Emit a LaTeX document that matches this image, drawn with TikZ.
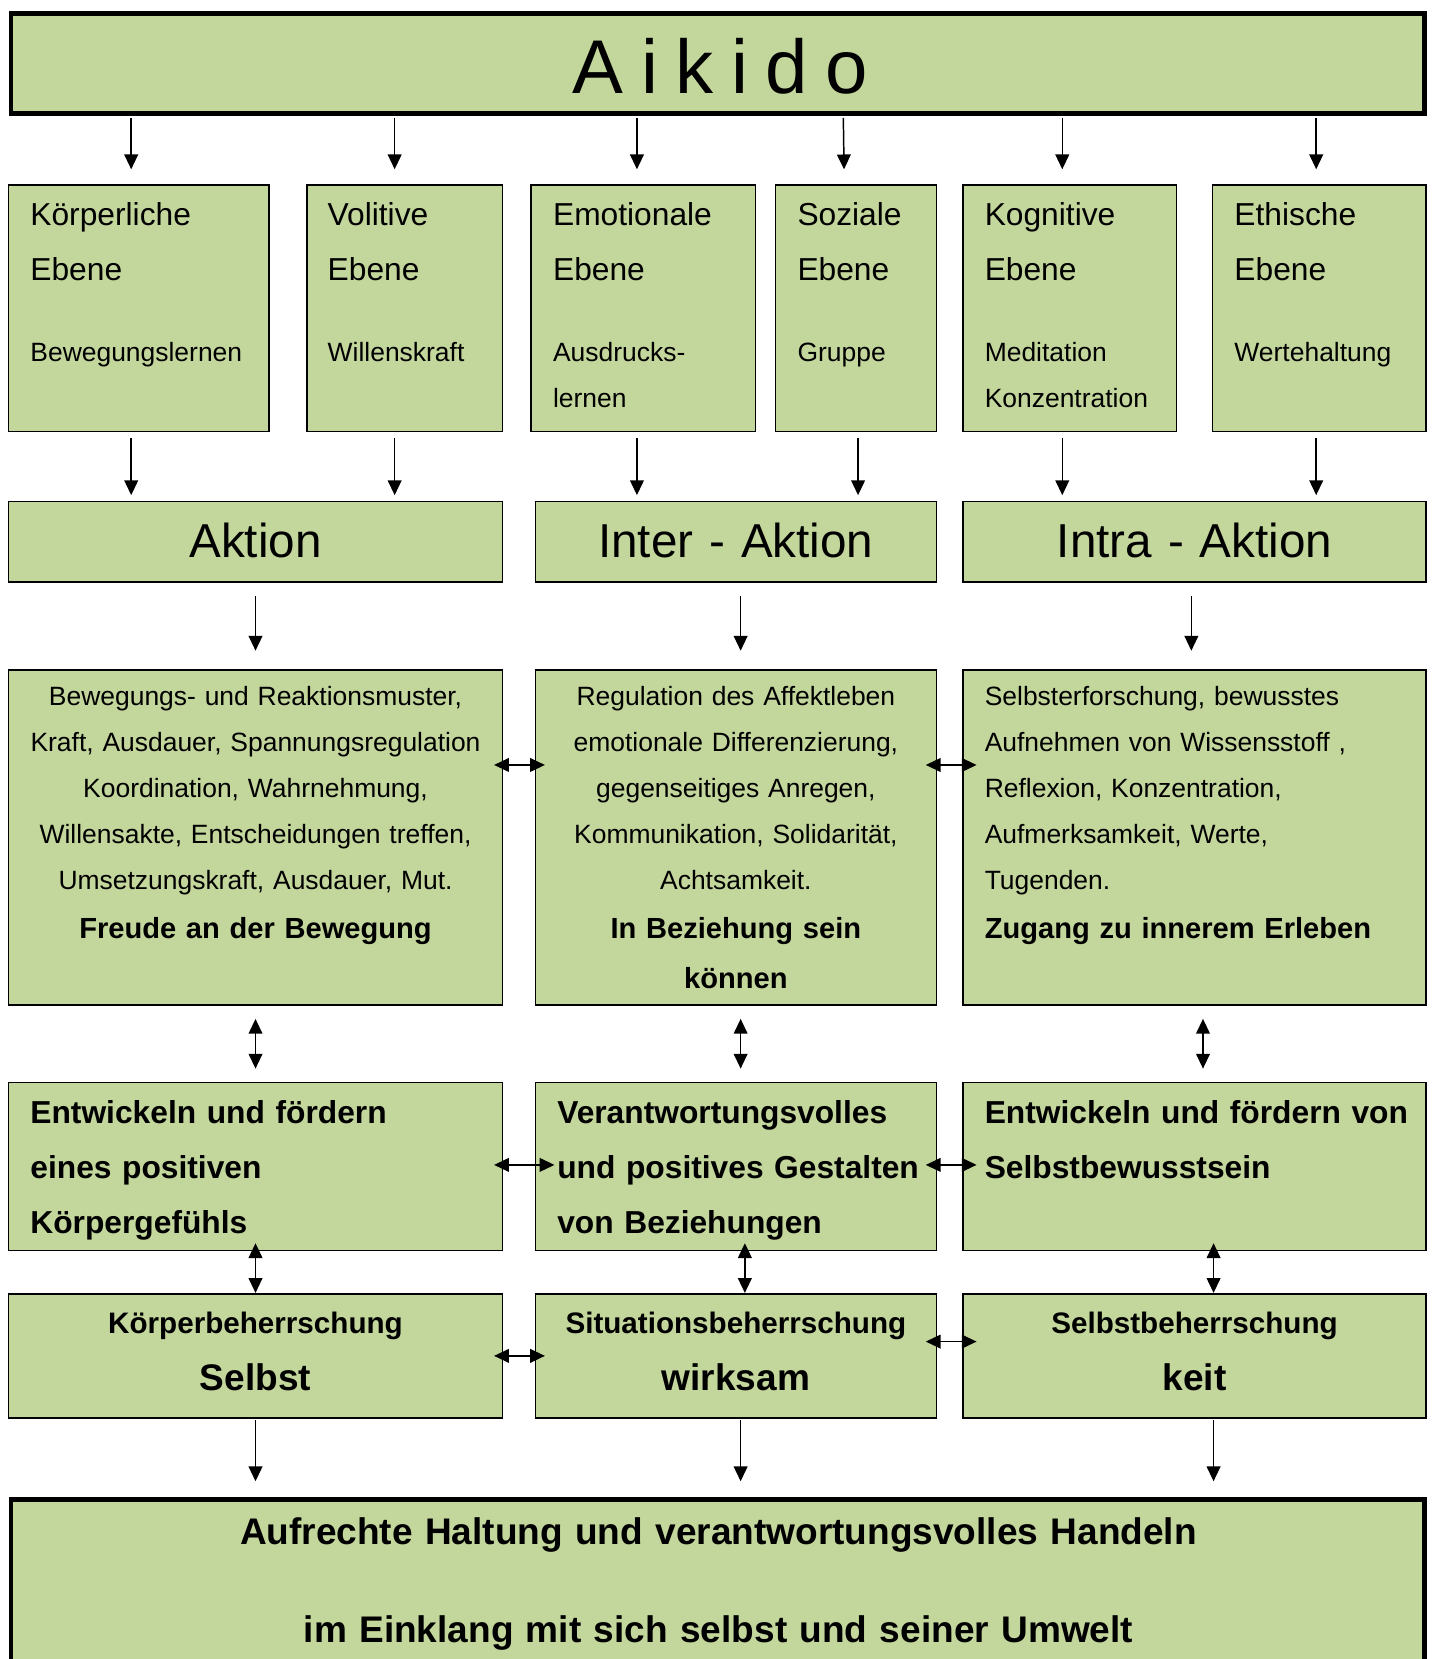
\documentclass[tikz,border=0pt]{standalone}
\usepackage{fontspec}
\setmainfont{Liberation Sans}
\usetikzlibrary{arrows.meta,calc}
\definecolor{aikgreen}{RGB}{195,214,155}
\tikzset{every picture/.style={line width=1.5pt}}
\tikzset{
  box/.style={draw, fill=aikgreen, line width=1.5pt, anchor=north west, inner sep=0pt, outer sep=0pt},
  bigbox/.style={box, line width=4.5pt},
  ltxt/.style={inner sep=0pt, anchor=base west, align=left},
  ctxt/.style={inner sep=0pt, anchor=base, align=center},
  lvhead/.style={ltxt, text width=220pt, font=\fontsize{30}{52}\selectfont},
  lvbody/.style={ltxt, text width=220pt, font=\fontsize{25}{43}\selectfont},
  acttxt/.style={ctxt, text width=430pt, font=\fontsize{45}{54}\selectfont},
  dettxt/.style={font=\fontsize{25}{43.5}\selectfont},
  detbold/.style={font=\fontsize{27.5}{47}\selectfont\bfseries},
  devtxt/.style={ltxt, text width=430pt, font=\fontsize{30}{52}\selectfont\bfseries},
  mssmall/.style={ctxt, text width=430pt, font=\fontsize{28}{34}\selectfont\bfseries},
  msbig/.style={ctxt, text width=430pt, font=\fontsize{35}{42}\selectfont\bfseries},
  arr/.style={-{Triangle[length=14pt,width=13pt]}, line width=1.4pt},
  dblarr/.style={{Triangle[length=14pt,width=13pt]}-{Triangle[length=14pt,width=13pt]}, line width=1.4pt},
}

\begin{document}
\begin{tikzpicture}[x=1pt,y=1pt,yscale=-1,xscale=1]
\useasboundingbox (0,0) rectangle (1357,1568);
\clip (0,0) rectangle (1357,1568);

%Boxes
\node[bigbox, minimum width=1336pt, minimum height=95pt] (aikido) at (10.5,12.5) {};
\node[box, minimum width=246pt, minimum height=233pt] (lvA) at (8,175) {};
\node[box, minimum width=185pt, minimum height=233pt] (lvB) at (290,175) {};
\node[box, minimum width=212pt, minimum height=233pt] (lvC) at (502,175) {};
\node[box, minimum width=152pt, minimum height=233pt] (lvD) at (733,175) {};
\node[box, minimum width=202pt, minimum height=233pt] (lvE) at (910,175) {};
\node[box, minimum width=202pt, minimum height=233pt] (lvF) at (1146,175) {};
\node[box, minimum width=467pt, minimum height=76pt] (akA) at (8,474) {};
\node[box, minimum width=379pt, minimum height=76pt] (akB) at (506,474) {};
\node[box, minimum width=438pt, minimum height=76pt] (akC) at (910,474) {};
\node[box, minimum width=467pt, minimum height=317pt] (dtA) at (8,633) {};
\node[box, minimum width=379pt, minimum height=317pt] (dtB) at (506,633) {};
\node[box, minimum width=438pt, minimum height=317pt] (dtC) at (910,633) {};
\node[box, minimum width=467pt, minimum height=159pt] (dvA) at (8,1023) {};
\node[box, minimum width=379pt, minimum height=159pt] (dvB) at (506,1023) {};
\node[box, minimum width=438pt, minimum height=159pt] (dvC) at (910,1023) {};
\node[box, minimum width=467pt, minimum height=117pt] (msA) at (8,1223) {};
\node[box, minimum width=379pt, minimum height=117pt] (msB) at (506,1223) {};
\node[box, minimum width=438pt, minimum height=117pt] (msC) at (910,1223) {};
\node[bigbox, minimum width=1336pt, minimum height=220pt] (goal) at (10.5,1417.5) {};

%Arrows from Aikido to the levels
\draw[arr, shorten <=4pt, shorten >=15pt] ($(aikido.south -| lvA.north)+(-7,0)$) -- ($(lvA.north)+(-7,0)$);
\draw[arr, shorten <=4pt, shorten >=15pt] ($(aikido.south -| lvB.north)+(-9.5,0)$) -- ($(lvB.north)+(-9.5,0)$);
\draw[arr, shorten <=4pt, shorten >=15pt] ($(aikido.south -| lvC.north)+(-6,0)$) -- ($(lvC.north)+(-6,0)$);
\draw[arr, shorten <=4pt, shorten >=15pt] ($(aikido.south -| lvD.north)+(-12,0)$) -- ($(lvD.north)+(-11,0)$);
\draw[arr, shorten <=4pt, shorten >=15pt] ($(aikido.south -| lvE.north)+(-7,0)$) -- ($(lvE.north)+(-7,0)$);
\draw[arr, shorten <=4pt, shorten >=15pt] ($(aikido.south -| lvF.north)+(-3,0)$) -- ($(lvF.north)+(-3,0)$);

%Arrows from the levels to the actions
\draw[arr, shorten <=6pt, shorten >=6pt] ($(lvA.south)+(-7,0)$) -- ($(lvA.south |- akA.north)+(-7,0)$);
\draw[arr, shorten <=6pt, shorten >=6pt] ($(lvB.south)+(-9.5,0)$) -- ($(lvB.south |- akA.north)+(-9.5,0)$);
\draw[arr, shorten <=6pt, shorten >=6pt] ($(lvC.south)+(-6,0)$) -- ($(lvC.south |- akB.north)+(-6,0)$);
\draw[arr, shorten <=6pt, shorten >=6pt] ($(lvD.south)+(2,0)$) -- ($(lvD.south |- akB.north)+(2,0)$);
\draw[arr, shorten <=6pt, shorten >=6pt] ($(lvE.south)+(-7,0)$) -- ($(lvE.south |- akC.north)+(-7,0)$);
\draw[arr, shorten <=6pt, shorten >=6pt] ($(lvF.south)+(-3,0)$) -- ($(lvF.south |- akC.north)+(-3,0)$);

%Arrows from the actions to the details
\draw[arr, shorten <=13pt, shorten >=18pt] (akA.south) -- (dtA.north);
\draw[arr, shorten <=13pt, shorten >=18pt] ($(akB.south)+(4.5,0)$) -- ($(dtB.north)+(4.5,0)$);
\draw[arr, shorten <=13pt, shorten >=18pt] ($(akC.south)+(-3,0)$) -- ($(dtC.north)+(-3,0)$);

%Vertical double arrows
\draw[dblarr, shorten <=13pt, shorten >=13pt] (dtA.south) -- (dvA.north);
\draw[dblarr, shorten <=13pt, shorten >=13pt] ($(dtB.south)+(4.5,0)$) -- ($(dvB.north)+(4.5,0)$);
\draw[dblarr, shorten <=13pt, shorten >=13pt] ($(dtC.south)+(8,0)$) -- ($(dvC.north)+(8,0)$);
\draw[dblarr, shorten <=-7pt, shorten >=1pt] (dvA.south) -- (msA.north);
\draw[dblarr, shorten <=-7pt, shorten >=1pt] ($(dvB.south)+(8.5,0)$) -- ($(msB.north)+(8.5,0)$);
\draw[dblarr, shorten <=-7pt, shorten >=1pt] ($(dvC.south)+(18,0)$) -- ($(msC.north)+(18,0)$);

%Horizontal double arrows
\draw[dblarr, shorten <=-8pt, shorten >=-9pt] ($(dtA.east)+(0,-68.5)$) -- ($(dtB.west)+(0,-68.5)$);
\draw[dblarr, shorten <=-10pt, shorten >=-13pt] ($(dtB.east)+(0,-68.5)$) -- ($(dtC.west)+(0,-68.5)$);
\draw[dblarr, shorten <=-8pt, shorten >=-18pt] ($(dvA.east)+(0,-1.5)$) -- ($(dvB.west)+(0,-1.5)$);
\draw[dblarr, shorten <=-10pt, shorten >=-13pt] ($(dvB.east)+(0,-1.5)$) -- ($(dvC.west)+(0,-1.5)$);
\draw[dblarr, shorten <=-8pt, shorten >=-9pt] (msA.east) -- (msB.west);
\draw[dblarr, shorten <=-10pt, shorten >=-13pt] ($(msB.east)+(0,-13.5)$) -- ($(msC.west)+(0,-13.5)$);

%Arrows to the goal
\draw[arr, shorten <=2pt, shorten >=17.5pt] (msA.south) -- (msA.south |- goal.north);
\draw[arr, shorten <=2pt, shorten >=17.5pt] ($(msB.south)+(4.5,0)$) -- ($(msB.south |- goal.north)+(4.5,0)$);
\draw[arr, shorten <=2pt, shorten >=17.5pt] ($(msC.south)+(18,0)$) -- ($(msC.south |- goal.north)+(18,0)$);

% Text Node
\node[ctxt, text width=1300pt, font=\fontsize{72}{80}\selectfont] (aikidot) at (681,88) {\spaceskip=0.23em\relax A i k i d o};
% Text Node
\node[lvhead] (lvAh) at (28,213) {Körperliche\\Ebene};
\node[lvbody] (lvAb) at (28,342) {Bewegungslernen};
\node[lvhead] (lvBh) at (309,213) {Volitive\\Ebene};
\node[lvbody] (lvBb) at (309,342) {Willenskraft};
\node[lvhead] (lvCh) at (522,213) {Emotionale\\Ebene};
\node[lvbody] (lvCb) at (522,342) {Ausdrucks-\\lernen};
\node[lvhead] (lvDh) at (753,213) {Soziale\\Ebene};
\node[lvbody] (lvDb) at (753,342) {Gruppe};
\node[lvhead] (lvEh) at (930,213) {Kognitive\\Ebene};
\node[lvbody] (lvEb) at (930,342) {Meditation\\Konzentration};
\node[lvhead] (lvFh) at (1166,213) {Ethische\\Ebene};
\node[lvbody] (lvFb) at (1166,342) {Wertehaltung};
% Text Node
\node[acttxt] (akAt) at (241.5,527) {Aktion};
\node[acttxt] (akBt) at (695.5,527) {Inter - Aktion};
\node[acttxt] (akCt) at (1129,527) {Intra - Aktion};
% Text Node
\node[ctxt, dettxt, text width=460pt] (dtAt) at (241.5,667) {Bewegungs- und Reaktionsmuster,\\Kraft, Ausdauer, Spannungsregulation\\Koordination, Wahrnehmung,\\Willensakte, Entscheidungen treffen,\\Umsetzungskraft, Ausdauer, Mut.};
\node[ctxt, detbold, text width=460pt] (dtAb) at (241.5,887) {Freude an der Bewegung};
\node[ctxt, dettxt, text width=370pt] (dtBt) at (695.5,667) {Regulation des Affektleben\\emotionale Differenzierung,\\gegenseitiges Anregen,\\Kommunikation, Solidarität,\\Achtsamkeit.};
\node[ctxt, detbold, text width=370pt] (dtBb) at (695.5,887) {In Beziehung sein\\können};
\node[ltxt, dettxt, text width=420pt] (dtCt) at (930,667) {Selbsterforschung, bewusstes\\Aufnehmen von Wissensstoff ,\\Reflexion, Konzentration,\\Aufmerksamkeit, Werte,\\Tugenden.};
\node[ltxt, detbold, text width=420pt] (dtCb) at (930,887) {Zugang zu innerem Erleben};
% Text Node
\node[devtxt] (dvAt) at (28,1062) {Entwickeln und fördern\\eines positiven\\Körpergefühls};
\node[devtxt] (dvBt) at (526,1062) {Verantwortungsvolles\\und positives Gestalten\\von Beziehungen};
\node[devtxt] (dvCt) at (930,1062) {Entwickeln und fördern von\\Selbstbewusstsein};
% Text Node
\node[mssmall] (msAs) at (241.5,1260) {Körperbeherrschung};
\node[msbig] (msAb) at (241.5,1314) {Selbst};
\node[mssmall] (msBs) at (695.5,1260) {Situationsbeherrschung};
\node[msbig] (msBb) at (695.5,1314) {wirksam};
\node[mssmall] (msCs) at (1129,1260) {Selbstbeherrschung};
\node[msbig] (msCb) at (1129,1314) {keit};
% Text Node
\node[ctxt, text width=1300pt, font=\fontsize{35}{92}\selectfont\bfseries] (goalt) at (679,1460) {Aufrechte Haltung und verantwortungsvolles Handeln\\im Einklang mit sich selbst und seiner Umwelt};

\end{tikzpicture}
\end{document}
